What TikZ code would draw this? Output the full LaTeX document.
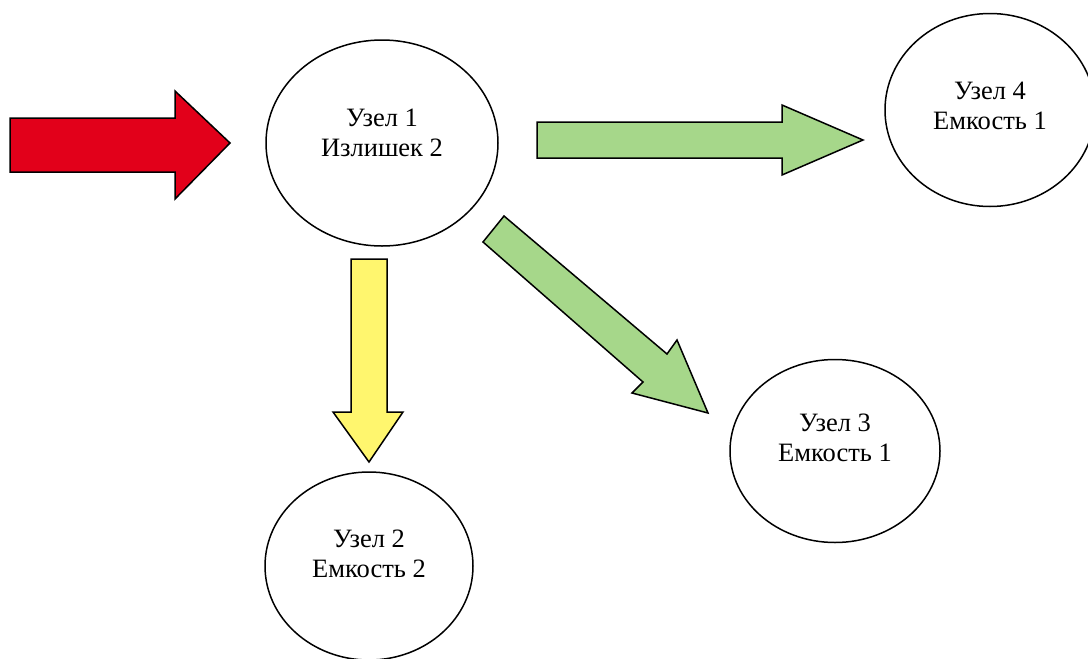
\documentclass[tikz,border=0pt]{standalone}
\usepackage{fontspec}
\setmainfont{Liberation Serif}
\usetikzlibrary{shapes.geometric}
\definecolor{redarrow}{RGB}{226,0,26}
\definecolor{greenarrow}{RGB}{166,215,138}
\definecolor{yellowarrow}{RGB}{255,246,110}
\tikzset{
  nodeell/.style={ellipse, draw=black, line width=1.5pt, fill=white, inner sep=0pt},
  nodetext/.style={align=center, font=\fontsize{26.5}{30.5}\selectfont, inner sep=0pt},
  blockarrow/.style={draw=black, line width=1.5pt, line join=miter}
}
\begin{document}
\begin{tikzpicture}[x=1pt,y=-1pt]
\useasboundingbox (0,0) rectangle (1088,659);
\clip (0,0) rectangle (1088,659);
\fill[white] (0,0) rectangle (1088,659);
% nodes
\node[nodeell, minimum width=232pt, minimum height=206pt] (n1) at (382,143) {};
\node[nodeell, minimum width=208pt, minimum height=188pt] (n2) at (369,566) {};
\node[nodeell, minimum width=210pt, minimum height=183pt] (n3) at (835,451) {};
\node[nodeell, minimum width=210pt, minimum height=193pt] (n4) at (990,110) {};
\node[nodetext] (n1t) at ([yshift=10pt]n1.center) {Узел 1\\Излишек 2};
\node[nodetext] (n2t) at ([yshift=12pt]n2.center) {Узел 2\\Емкость 2};
\node[nodetext] (n3t) at ([yshift=13pt]n3.center) {Узел 3\\Емкость 1};
\node[nodetext] (n4t) at ([yshift=4pt]n4.center) {Узел 4\\Емкость 1};
% red input arrow
\draw[blockarrow, fill=redarrow] (10,118) -- (175,118) -- (175,91) -- (230,143) -- (175,199) -- (175,172) -- (10,172) -- cycle;
% green arrow to node 4
\draw[blockarrow, fill=greenarrow] (537,122) -- (782,122) -- (782,105) -- (863,140) -- (782,175) -- (782,158) -- (537,158) -- cycle;
% yellow arrow to node 2
\draw[blockarrow, fill=yellowarrow] (351,259) -- (387,259) -- (387,412) -- (403,412) -- (369,462) -- (333,412) -- (351,412) -- cycle;
% green diagonal arrow to node 3
\draw[blockarrow, fill=greenarrow] (504,216) -- (667,354) -- (677,340) -- (708,413) -- (632,393) -- (643,382) -- (483,242) -- cycle;
\end{tikzpicture}
\end{document}
